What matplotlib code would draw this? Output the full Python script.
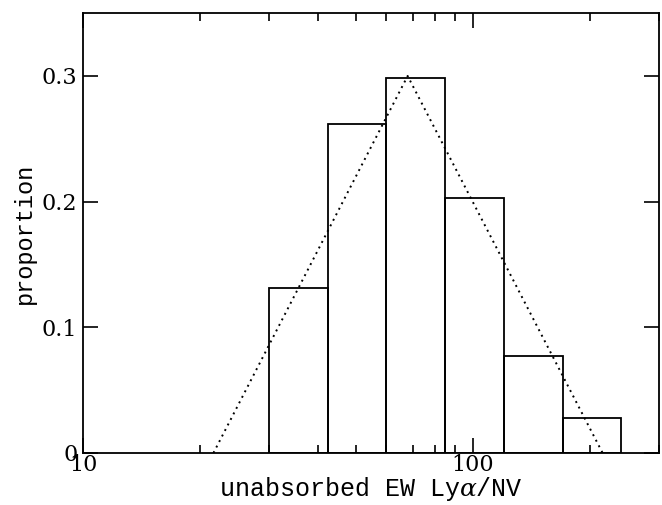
import matplotlib
matplotlib.use("Agg")
import matplotlib.pyplot as plt
import numpy as np

# Data
bin_edges = [30.0, 42.4, 60.0, 84.9, 120.0, 169.7, 240.0]
proportions = [0.131, 0.262, 0.298, 0.203, 0.077, 0.028]
model_x = [21.6, 68.0, 215.0]
model_y = [0.0, 0.300, 0.0]
xticks = [10, 100]
xticklabels = ["10", "100"]
yticks = [0, 0.1, 0.2, 0.3]
yticklabels = ["0", "0.1", "0.2", "0.3"]

plt.rcParams['font.family'] = ['DejaVu Serif']
plt.rcParams['mathtext.fontset'] = 'dejavuserif'

fig = plt.figure(figsize=(6.62, 5.05), dpi=100)
ax = fig.add_axes([0.1254, 0.103, 0.8701, 0.871])

edges = np.array(bin_edges)
ax.bar(edges[:-1], proportions, width=np.diff(edges), align='edge',
       fill=False, edgecolor='black', linewidth=1.3)
ax.plot(model_x, model_y, linestyle=(0, (1, 2.2)), color='black', linewidth=1.4)

ax.set_xscale('log')
ax.set_xlim(10, 300)
ax.set_ylim(0, 0.35)

ax.set_xticks(xticks)
ax.set_xticklabels(xticklabels)
ax.set_yticks(yticks)
ax.set_yticklabels(yticklabels)
ax.xaxis.set_minor_locator(matplotlib.ticker.LogLocator(base=10, subs=np.arange(2, 10)))
ax.xaxis.set_minor_formatter(matplotlib.ticker.NullFormatter())

ax.tick_params(which='both', direction='in', top=True, right=True, labelsize=16, width=1.2)
ax.tick_params(which='major', length=11)
ax.tick_params(which='minor', length=5.5)
ax.tick_params(axis='x', pad=1)
ax.tick_params(axis='y', pad=4)
for s in ax.spines.values():
    s.set_linewidth(1.3)

mono = ['Liberation Mono', 'DejaVu Sans Mono']
ax.set_xlabel(r"unabsorbed EW Ly$\alpha$/NV", fontsize=18, family=mono, labelpad=-1)
ax.set_ylabel("proportion", fontsize=17, family=mono, labelpad=4)

fig.savefig("out.png", dpi=100)
